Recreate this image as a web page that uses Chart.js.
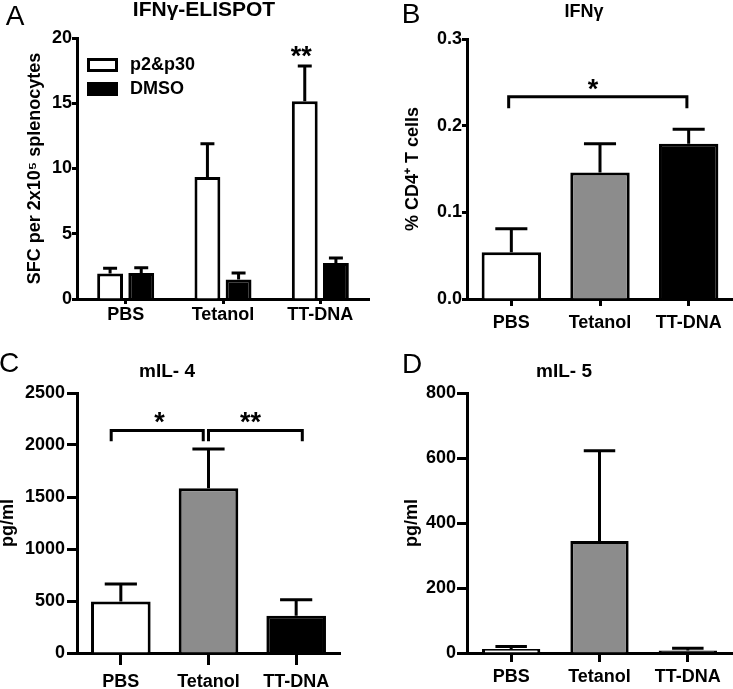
<!DOCTYPE html>
<html>
<head>
<meta charset="utf-8">
<script src="https://cdn.jsdelivr.net/npm/chart.js@4"></script>
<style>
  body { margin: 0; background: #fff; }
  #wrap { position: relative; width: 733px; height: 689px; }
  canvas { position: absolute; }
</style>
</head>
<body>
<div id="wrap">
  <canvas id="chartA" width="370" height="340" style="left:0;top:0"></canvas>
  <canvas id="chartB" width="363" height="340" style="left:370px;top:0"></canvas>
  <canvas id="chartC" width="370" height="349" style="left:0;top:340px"></canvas>
  <canvas id="chartD" width="363" height="349" style="left:370px;top:340px"></canvas>
</div>
<script>
Chart.defaults.font.family = "'Liberation Sans', Arial, sans-serif"
Chart.defaults.color = '#000'

const groups = ['PBS', 'Tetanol', 'TT-DNA']
const seriesNames = ['p2&p30', 'DMSO']

// A - IFNg ELISPOT
const elispotP2 = [1.95, 9.35, 15.15]
const elispotP2Err = [0.4, 2.55, 2.7]
const elispotDmso = [2.0, 1.5, 2.75]
const elispotDmsoErr = [0.4, 0.5, 0.4]

// B - IFNg % CD4+
const ifngCd4 = [0.054, 0.146, 0.179]
const ifngCd4Err = [0.027, 0.033, 0.017]

// C - mIL-4
const il4 = [495, 1585, 357]
const il4Err = [168, 377, 155]

// D - mIL-5
const il5 = [12, 345, 8]
const il5Err = [8, 277, 7]

// significance marks: [from, to, top, leg] in category / value units
const bracketsB = [[-0.03, 1.98, 0.2334, 0.22]]
const bracketsC = [[-0.11, 0.94, 2140, 2035], [1.0, 2.07, 2140, 2035]]
const starsA = [[1.805, 19.0, '**']]
const starsB = [[0.92, 0.247, '*']]
const starsC = [[0.44, 2267, '*'], [1.48, 2267, '**']]

const fills = ['#ffffff', '#8c8c8c', '#000000']
const boldFont = size => ({ size, weight: 'bold', family: "'Liberation Sans', Arial, sans-serif" })

/** error bars above each bar */
const errorBars = {
  id: 'errorBars',
  afterDatasetsDraw(chart) {
    const ctx = chart.ctx
    const y = chart.scales.y
    chart.data.datasets.forEach((ds, i) => {
      chart.getDatasetMeta(i).data.forEach((bar, j) => {
        const top = y.getPixelForValue(ds.data[j] + ds.err[j])
        const half = bar.width * 0.27
        ctx.save()
        ctx.strokeStyle = '#000'
        ctx.lineWidth = 3
        ctx.beginPath()
        ctx.moveTo(bar.x, bar.y)
        ctx.lineTo(bar.x, top)
        ctx.moveTo(bar.x - half, top)
        ctx.lineTo(bar.x + half, top)
        ctx.stroke()
        ctx.restore()
      })
    })
  }
}

/** brackets and stars */
const sigMarks = {
  id: 'sigMarks',
  afterDraw(chart, args, opts) {
    const ctx = chart.ctx
    const { x, y } = chart.scales
    ctx.save()
    ctx.strokeStyle = '#000'
    ctx.lineWidth = 3
    ;(opts.brackets || []).forEach(([a, b, top, leg]) => {
      ctx.beginPath()
      ctx.moveTo(x.getPixelForValue(a), y.getPixelForValue(leg))
      ctx.lineTo(x.getPixelForValue(a), y.getPixelForValue(top))
      ctx.lineTo(x.getPixelForValue(b), y.getPixelForValue(top))
      ctx.lineTo(x.getPixelForValue(b), y.getPixelForValue(leg))
      ctx.stroke()
    })
    ctx.fillStyle = '#000'
    ctx.font = "bold 27px 'Liberation Sans', Arial, sans-serif"
    ctx.textAlign = 'center'
    ctx.textBaseline = 'alphabetic'
    ;(opts.stars || []).forEach(([cx, cy, txt]) => {
      const m = ctx.measureText(txt)
      const off = (m.actualBoundingBoxAscent - m.actualBoundingBoxDescent) / 2
      ctx.fillText(txt, x.getPixelForValue(cx), y.getPixelForValue(cy) + off)
    })
    ctx.restore()
  }
}

/** panel letter and title */
const panelText = {
  id: 'panelText',
  afterDraw(chart, args, o) {
    const ctx = chart.ctx
    ctx.save()
    ctx.fillStyle = '#000'
    ctx.textAlign = 'center'
    ctx.textBaseline = 'alphabetic'
    ctx.font = "28px 'Liberation Sans', Arial, sans-serif"
    ctx.fillText(o.letter, o.letterX, o.letterY)
    ctx.font = `bold ${o.titleSize}px 'Liberation Sans', Arial, sans-serif`
    ctx.fillText(o.title, o.titleX, o.titleY)
    ctx.restore()
  }
}

/** legend boxes inside the plot (panel A) */
const swatches = {
  id: 'swatches',
  afterDraw(chart, args, o) {
    if (!o.show) return
    const ctx = chart.ctx
    const { left, top } = chart.chartArea
    ctx.save()
    chart.data.datasets.forEach((ds, i) => {
      const bx = left + 10, by = top + 20 + i * 24
      ctx.fillStyle = ds.backgroundColor
      ctx.fillRect(bx, by, 31, 14)
      ctx.strokeStyle = '#000'
      ctx.lineWidth = 3
      ctx.strokeRect(bx + 1.5, by + 1.5, 28, 11)
      ctx.fillStyle = '#000'
      ctx.font = "bold 18px 'Liberation Sans', Arial, sans-serif"
      ctx.textBaseline = 'middle'
      ctx.fillText(ds.label, bx + 43, by + 7)
    })
    ctx.restore()
  }
}

const makeChart = (id, c) => new Chart(id, {
  type: 'bar',
  data: { labels: groups, datasets: c.datasets },
  options: {
    responsive: false,
    animation: false,
    devicePixelRatio: 1,
    layout: { padding: { top: c.top, right: c.right, left: 0, bottom: 0 } },
    datasets: { bar: { barPercentage: c.barPct, categoryPercentage: c.catPct } },
    plugins: {
      legend: { display: false },
      tooltip: { enabled: false },
      panelText: c.text,
      sigMarks: c.sig,
      swatches: { show: !!c.legend }
    },
    scales: {
      x: {
        z: 1,
        grid: { drawOnChartArea: false, offset: false, tickLength: c.xTick, tickWidth: 3, tickColor: '#000' },
        border: { color: '#000', width: 3 },
        ticks: { font: boldFont(18), color: '#000', padding: c.xPad, maxRotation: 0, autoSkip: false },
        afterFit: s => { s.height = c.xHeight }
      },
      y: {
        z: 1,
        min: 0,
        max: c.max,
        grid: { drawOnChartArea: false, tickLength: c.yTick, tickWidth: 3, tickColor: '#000' },
        border: { color: '#000', width: 3 },
        ticks: { stepSize: c.step, font: boldFont(18), color: '#000', padding: c.yPad, callback: c.fmt },
        title: {
          display: true, text: c.yTitle, color: '#000',
          font: { size: 18, weight: 'bold', lineHeight: 1 },
          padding: { top: c.titlePad, bottom: 0 }
        },
        afterFit: s => { s.width = c.yWidth }
      }
    }
  },
  plugins: [errorBars, sigMarks, panelText, swatches]
})

const solo = (values, errs) => [{
  data: values, err: errs,
  backgroundColor: fills, borderColor: '#000', borderWidth: 3, borderSkipped: 'start'
}]

makeChart('chartA', {
  datasets: [
    { label: seriesNames[0], data: elispotP2, err: elispotP2Err, backgroundColor: '#ffffff', borderColor: '#000', borderWidth: 3, borderSkipped: 'start' },
    { label: seriesNames[1], data: elispotDmso, err: elispotDmsoErr, backgroundColor: '#000000', borderColor: '#000', borderWidth: 3, borderSkipped: 'start' }
  ],
  legend: true,
  top: 38, right: 1, yWidth: 77, xHeight: 41,
  barPct: 0.83, catPct: 0.64,
  max: 20, step: 5, fmt: v => String(v),
  xTick: 5, xPad: 0, yTick: 5, yPad: 0,
  yTitle: 'SFC per 2x10\u2075 splenocytes', titlePad: 26,
  text: { letter: 'A', letterX: 15, letterY: 25, title: 'IFN\u03b3-ELISPOT', titleX: 204, titleY: 16, titleSize: 21 },
  sig: { stars: starsA }
})

makeChart('chartB', {
  datasets: solo(ifngCd4, ifngCd4Err),
  top: 39, right: 0, yWidth: 97, xHeight: 41,
  barPct: 0.67, catPct: 1,
  max: 0.3, step: 0.1, fmt: v => v.toFixed(1),
  xTick: 7, xPad: 6, yTick: 5, yPad: 0,
  yTitle: '% CD4\u207a T cells', titlePad: 34,
  text: { letter: 'B', letterX: 41, letterY: 23, title: 'IFN\u03b3', titleX: 214, titleY: 17, titleSize: 18 },
  sig: { brackets: bracketsB, stars: starsB }
})

makeChart('chartC', {
  datasets: solo(il4, il4Err),
  top: 53, right: 30, yWidth: 77, xHeight: 36,
  barPct: 0.68, catPct: 1,
  max: 2500, step: 500, fmt: v => String(v),
  xTick: 12, xPad: 6, yTick: 10, yPad: 2,
  yTitle: 'pg/ml', titlePad: -1,
  text: { letter: 'C', letterX: 9, letterY: 32, title: 'mIL- 4', titleX: 167, titleY: 37, titleSize: 19 },
  sig: { brackets: bracketsC, stars: starsC }
})

makeChart('chartD', {
  datasets: solo(il5, il5Err),
  top: 53, right: 1, yWidth: 97, xHeight: 36,
  barPct: 0.66, catPct: 1,
  max: 800, step: 200, fmt: v => String(v),
  xTick: 9, xPad: 4, yTick: 10, yPad: 1,
  yTitle: 'pg/ml', titlePad: 33,
  text: { letter: 'D', letterX: 42, letterY: 33, title: 'mIL- 5', titleX: 194, titleY: 37, titleSize: 19 },
  sig: {}
})
</script>
</body>
</html>
